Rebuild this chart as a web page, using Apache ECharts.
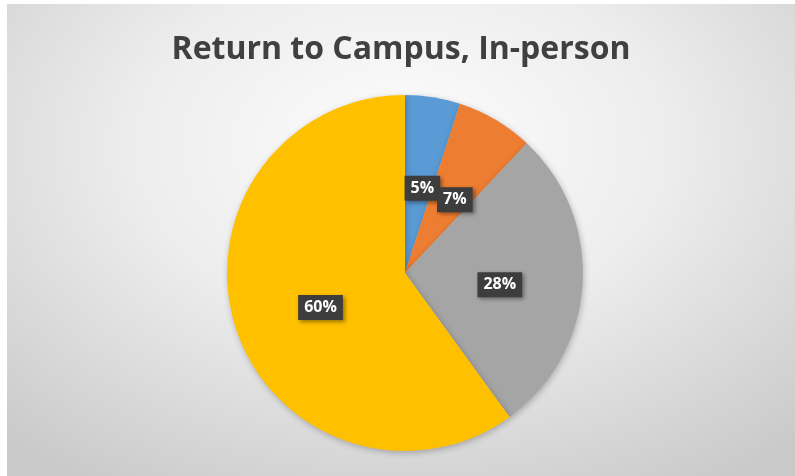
<!DOCTYPE html>
<html>
<head>
<meta charset="utf-8">
<script src="https://cdn.jsdelivr.net/npm/echarts@6/dist/echarts.min.js"></script>
<style>
  html, body { margin: 0; padding: 0; background: #ffffff; }
  #chart {
    position: absolute; left: 7px; top: 4px; width: 788px; height: 472px;
    background: radial-gradient(ellipse 75% 85% at 50% 30%, #fdfdfd 0%, #ededed 45%, #d6d6d6 80%, #c9c9c9 100%);
  }
</style>
</head>
<body>
<div id="chart"></div>
<script>
var categories = ['A', 'B', 'C', 'D'];
var values = [5, 7, 28, 60];
var colors = ['#5B9BD5', '#ED7D31', '#A5A5A5', '#FFC000'];

var myChart = echarts.init(document.getElementById('chart'));
var option = {
  animation: false,
  title: {
    text: 'Return to Campus, In-person',
    left: 'center',
    top: 25,
    textStyle: {
      fontFamily: 'Open Sans',
      fontWeight: 'bold',
      fontSize: 32,
      color: '#404040'
    }
  },
  series: [{
    type: 'pie',
    center: [398, 269],
    radius: 178,
    startAngle: 90,
    clockwise: true,
    avoidLabelOverlap: false,
    data: categories.map(function (c, i) {
      return { name: c, value: values[i], itemStyle: { color: colors[i] } };
    }),
    itemStyle: {
      shadowBlur: 6,
      shadowColor: 'rgba(0,0,0,0.25)',
      shadowOffsetX: 1,
      shadowOffsetY: 2
    },
    label: {
      show: true,
      position: 'inside',
      formatter: '{d}%',
      offset: [3, 6],
      fontFamily: 'Open Sans',
      fontWeight: 'bold',
      fontSize: 16,
      color: '#ffffff',
      backgroundColor: '#3d3d3d',
      padding: [5, 6, 4, 6],
      shadowBlur: 4,
      shadowColor: 'rgba(0,0,0,0.4)',
      shadowOffsetX: 2,
      shadowOffsetY: 2
    },
    labelLayout: { hideOverlap: false },
    labelLine: { show: false },
    emphasis: { disabled: true }
  }]
};
myChart.setOption(option);
</script>
</body>
</html>
